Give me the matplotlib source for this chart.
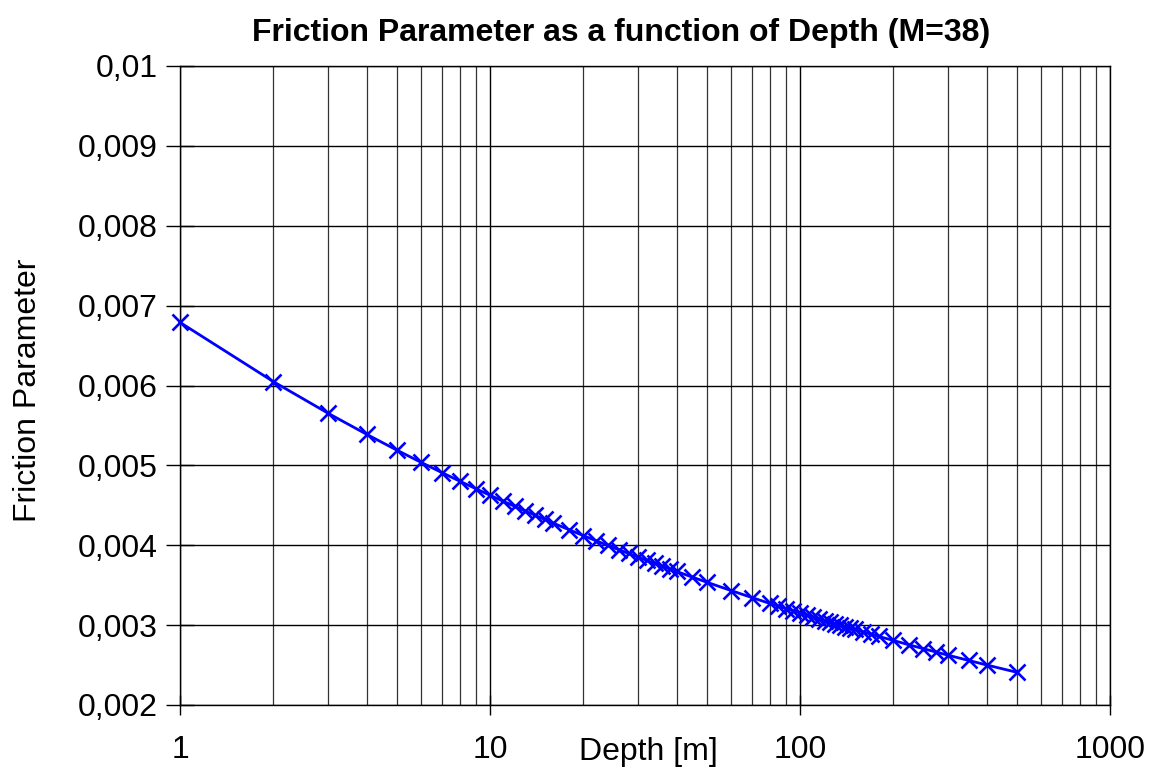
import matplotlib
matplotlib.use("Agg")
import matplotlib.pyplot as plt
from matplotlib.ticker import FixedLocator, LogLocator, MultipleLocator, FuncFormatter, NullFormatter

# Depth values [m] and friction parameter for Manning M=38
depth = [1, 2, 3, 4, 5, 6, 7, 8, 9, 10, 11, 12, 13, 14, 15, 16, 18,
         20, 22, 24, 26, 28, 30, 32, 34, 36, 38, 40, 45, 50, 60, 70, 80,
         85, 90, 95, 100, 105, 110, 115, 120, 125, 130, 135, 140, 145, 150,
         160, 170, 180, 200, 225, 250, 275, 300, 350, 400, 500]
friction = [0.006790, 0.006049, 0.005654, 0.005389, 0.005192, 0.005037,
            0.004909, 0.004801, 0.004708, 0.004626, 0.004553, 0.004488,
            0.004428, 0.004374, 0.004324, 0.004277, 0.004194,
            0.004121, 0.004056, 0.003998, 0.003945, 0.003897, 0.003852,
            0.003811, 0.003772, 0.003737, 0.003703, 0.003672, 0.003600,
            0.003538, 0.003432, 0.003345, 0.003271,
            0.003238, 0.003207, 0.003179, 0.003152, 0.003126, 0.003102,
            0.003079, 0.003057, 0.003037, 0.003017, 0.002998, 0.002980,
            0.002962, 0.002946,
            0.002914, 0.002885, 0.002858, 0.002808, 0.002753, 0.002705,
            0.002663, 0.002624, 0.002558, 0.002501, 0.002410]

x_ticks = [1, 10, 100, 1000]

plt.rcParams['font.family'] = ['Liberation Sans', 'DejaVu Sans']

fig = plt.figure(figsize=(11.5, 7.69), dpi=100)
ax = fig.add_axes([180 / 1150, 1 - 705 / 769, 930 / 1150, 639 / 769])

ax.plot(depth, friction, color='#0000ff', lw=2.0, marker='x',
        markersize=12, markeredgewidth=1.9, clip_on=False, zorder=3)

ax.set_xscale('log')
ax.set_xlim(1, 1000)
ax.set_ylim(0.002, 0.01)

ax.xaxis.set_major_locator(FixedLocator(x_ticks))
ax.xaxis.set_major_formatter(FuncFormatter(lambda v, p: f"{v:g}"))
ax.xaxis.set_minor_locator(LogLocator(base=10, subs=range(2, 10)))
ax.xaxis.set_minor_formatter(NullFormatter())
ax.yaxis.set_major_locator(MultipleLocator(0.001))
ax.yaxis.set_major_formatter(FuncFormatter(lambda v, p: f"{v:g}".replace('.', ',')))

ax.grid(True, which='major', color='black', lw=1.0)
ax.grid(True, which='minor', axis='x', color='#333333', lw=0.9)
ax.set_axisbelow(True)

ax.tick_params(axis='x', which='major', direction='inout', length=15,
               width=1, labelsize=23, pad=14)
ax.tick_params(axis='x', which='minor', length=0)
ax.tick_params(axis='y', which='major', direction='inout', length=20,
               width=1, labelsize=23, pad=6)
for s in ax.spines.values():
    s.set_linewidth(1)

fig.text(621 / 1150, 1 - 33 / 769,
         "Friction Parameter as a function of Depth (M=38)",
         ha='center', va='center', fontsize=23, fontweight='bold')
fig.text(648 / 1150, 1 - 752 / 769, "Depth [m]", ha='center', va='center',
         fontsize=23)
fig.text(28 / 1150, 1 - 390 / 769, "Friction Parameter", ha='center',
         va='center', rotation=90, fontsize=23)

fig.savefig('out.png', dpi=100)
